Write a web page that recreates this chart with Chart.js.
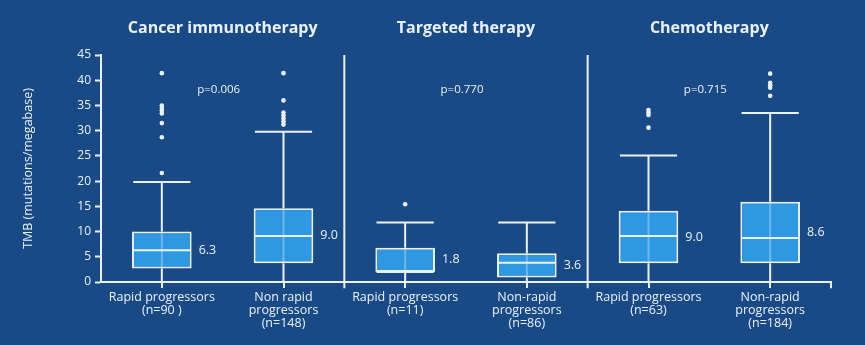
<!DOCTYPE html>
<html>
<head>
<meta charset="utf-8">
<script src="https://cdn.jsdelivr.net/npm/chart.js@4"></script>
<style>
html,body{margin:0;padding:0;background:#1a4a85;}
#wrap{width:865px;height:345px;position:relative;}
</style>
</head>
<body>
<div id="wrap"><canvas id="c" width="865" height="345"></canvas></div>
<script>
// ---- data ----
const categories = [
  ["Rapid progressors", "(n=90 )"],
  ["Non rapid", "progressors", "(n=148)"],
  ["Rapid progressors", "(n=11)"],
  ["Non-rapid", "progressors", "(n=86)"],
  ["Rapid progressors", "(n=63)"],
  ["Non-rapid", "progressors", "(n=184)"]
];
const panelTitles = ["Cancer immunotherapy", "Targeted therapy", "Chemotherapy"];
const pValues = ["p=0.006", "p=0.770", "p=0.715"];
const q1 = [2.7, 3.7, 2.0, 0.9, 3.7, 3.7];
const medians = [6.3, 9.1, 2.0, 3.8, 9.1, 8.7];
const q3 = [10.0, 14.6, 6.8, 5.7, 14.1, 15.9];
const whiskerLow = [0, 0, 0, 0, 0, 0];
const whiskerHigh = [19.8, 29.8, 11.8, 11.8, 25.1, 33.5];
const medianLabels = ["6.3", "9.0", "1.8", "3.6", "9.0", "8.6"];
const outliers = [
  [41.4, 35.0, 34.5, 34.0, 33.4, 31.5, 28.7, 21.6],
  [41.4, 36.0, 33.6, 33.0, 32.4, 31.8, 31.2],
  [15.4],
  [],
  [34.1, 33.6, 33.1, 30.6],
  [41.3, 39.5, 39.0, 38.5, 36.9]
];
const yTicks = [0, 5, 10, 15, 20, 25, 30, 35, 40, 45];
const yMax = 45;

// ---- build datasets ----
const CAP = 0.235;
const BELOW = -1.25; // extends below axis like tick marks
const whiskerOuter = [], whiskerInner = [], medianSeg = [], outlierPts = [], separators = [];
categories.forEach((c, i) => {
  whiskerOuter.push({x: i, y: whiskerLow[i]}, {x: i, y: q1[i]}, {x: NaN, y: null});
  whiskerOuter.push({x: i, y: q3[i]}, {x: i, y: whiskerHigh[i]}, {x: NaN, y: null});
  whiskerOuter.push({x: i - CAP, y: whiskerHigh[i]}, {x: i + CAP, y: whiskerHigh[i]}, {x: NaN, y: null});
  whiskerInner.push({x: i, y: q1[i]}, {x: i, y: q3[i]}, {x: NaN, y: null});
  medianSeg.push({x: i - CAP, y: medians[i]}, {x: i + CAP, y: medians[i]}, {x: NaN, y: null});
  outliers[i].forEach(v => outlierPts.push({x: i, y: v}));
});
panelTitles.forEach((t, p) => {
  const xb = p * 2 + 1.5;
  const top = p < panelTitles.length - 1 ? yMax : 0;
  separators.push({x: xb, y: BELOW}, {x: xb, y: top}, {x: NaN, y: null});
});
const boxes = categories.map((c, i) => ({x: i, y: [q1[i], q3[i]]}));

const WHITE = '#e9f2fc';
const FONT = '"Open Sans", "Noto Sans", sans-serif';

const textPlugin = {
  id: 'panelText',
  afterDatasetsDraw(chart) {
    const {ctx, scales: {x, y}, chartArea} = chart;
    ctx.save();
    ctx.fillStyle = WHITE;
    ctx.textAlign = 'center';
    ctx.textBaseline = 'middle';
    ctx.font = 'bold 16px ' + FONT;
    panelTitles.forEach((t, p) => {
      ctx.fillText(t, x.getPixelForValue(p * 2 + 0.5), chartArea.top - 27);
    });
    ctx.font = '11.5px ' + FONT;
    pValues.forEach((t, p) => {
      ctx.fillText(t, x.getPixelForValue(p * 2 + 0.5) - 4, y.getPixelForValue(38.1));
    });
    const meta = chart.getDatasetMeta(0);
    ctx.font = '12.5px ' + FONT;
    ctx.textAlign = 'left';
    medianLabels.forEach((t, i) => {
      const bar = meta.data[i];
      const px = bar.x + bar.width / 2 + 7;
      ctx.fillText(t, px, y.getPixelForValue((q1[i] + q3[i]) / 2));
    });
    ctx.restore();
  }
};

new Chart(document.getElementById('c'), {
  type: 'bar',
  data: {
    datasets: [
      {
        type: 'bar', data: boxes,
        backgroundColor: '#2e98e2', borderColor: WHITE, borderWidth: 2, borderSkipped: false,
        barPercentage: 0.49, categoryPercentage: 1, grouped: false, order: 5
      },
      {
        type: 'line', data: whiskerInner, borderColor: 'rgba(233,242,252,0.35)', borderWidth: 2,
        pointRadius: 0, spanGaps: false, order: 3
      },
      {
        type: 'line', data: whiskerOuter, borderColor: WHITE, borderWidth: 2,
        pointRadius: 0, spanGaps: false, order: 2
      },
      {
        type: 'line', data: medianSeg, borderColor: WHITE, borderWidth: 2,
        pointRadius: 0, spanGaps: false, order: 2
      },
      {
        type: 'line', data: separators, borderColor: WHITE, borderWidth: 2,
        pointRadius: 0, spanGaps: false, clip: false, order: 2
      },
      {
        type: 'scatter', data: outlierPts, backgroundColor: WHITE, borderWidth: 0,
        pointRadius: 2.3, order: 1
      }
    ]
  },
  options: {
    responsive: false,
    animation: false,
    events: [],
    layout: {padding: {left: 21, top: 55, right: 34, bottom: 0}},
    plugins: {legend: {display: false}, tooltip: {enabled: false}},
    scales: {
      x: {
        type: 'linear', min: -0.5, max: 5.5, offset: false,
        afterBuildTicks(s) { s.ticks = categories.map((c, i) => ({value: i})); },
        afterFit(s) { s.height = 63; },
        border: {color: WHITE, width: 2},
        grid: {
          offset: false, drawOnChartArea: false, drawTicks: true, tickLength: 6,
          color: WHITE, tickColor: WHITE, lineWidth: 2, tickWidth: 2
        },
        ticks: {
          autoSkip: false, maxRotation: 0, padding: 3, color: WHITE,
          font: {family: FONT, size: 12.5, lineHeight: 1.05},
          callback: (v) => Number.isInteger(v) ? categories[v] : ''
        }
      },
      y: {
        min: 0, max: yMax,
        afterBuildTicks(s) { s.ticks = yTicks.map(v => ({value: v})); },
        afterFit(s) { s.width = 101 - 21; },
        border: {color: WHITE, width: 2},
        grid: {drawOnChartArea: false, drawTicks: true, tickLength: 6, color: WHITE, tickWidth: 2},
        ticks: {color: WHITE, padding: 4, font: {family: FONT, size: 12}},
        title: {display: true, text: 'TMB (mutations/megabase)', color: WHITE,
          font: {family: FONT, size: 12.5}, padding: {top: 0, bottom: 4}}
      }
    }
  },
  plugins: [textPlugin]
});
</script>
</body>
</html>
